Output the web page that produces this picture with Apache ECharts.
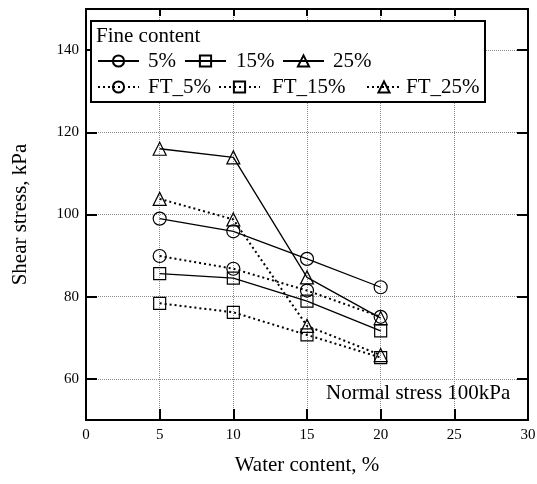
<!DOCTYPE html>
<html>
<head>
<meta charset="utf-8">
<script src="https://cdn.jsdelivr.net/npm/echarts@6/dist/echarts.min.js"></script>
<style>
  html, body { margin: 0; padding: 0; background: #fff; }
  #chart { width: 537px; height: 484px; }
</style>
</head>
<body>
<div id="chart"></div>
<script>
// Water content (%) at which each specimen group was tested
const waterContent = [5, 10, 15, 20];

// Shear stress (kPa) under 100 kPa normal stress
const fine5 = [99.0, 95.9, 89.2, 82.3];
const fine15 = [85.6, 84.5, 78.9, 71.7];
const fine25 = [116.0, 113.9, 84.7, 74.8];
const ft5 = [89.9, 86.8, 81.5, 75.1];
const ft15 = [78.4, 76.2, 70.7, 65.2];
const ft25 = [103.8, 98.8, 72.9, 65.8];

const seriesNames = ['5%', '15%', '25%', 'FT_5%', 'FT_15%', 'FT_25%'];
const seriesValues = [fine5, fine15, fine25, ft5, ft15, ft25];

// Axis tick labels
const xTicks = [0, 5, 10, 15, 20, 25, 30];
const yTicks = [60, 80, 100, 120, 140];

const FONT = '"Liberation Serif", "Times New Roman", serif';

const symbols = ['circle', 'rect', 'triangle', 'circle', 'rect', 'triangle'];
const symbolSizes = [13, 12, 13, 13, 12, 13];

function pairs(vals) {
  return waterContent.map((x, i) => [x, vals[i]]);
}

const series = seriesNames.map((name, i) => {
  const dotted = i >= 3;
  return {
    name: name,
    type: 'line',
    data: pairs(seriesValues[i]),
    symbol: symbols[i],
    symbolSize: symbolSizes[i],
    showAllSymbol: true,
    z: 2,
    itemStyle: { color: 'rgba(255,255,255,0)', borderColor: '#000', borderWidth: 1.2 },
    lineStyle: dotted
      ? { color: '#000', width: 2, type: [2, 3] }
      : { color: '#000', width: 1.3, type: 'solid' },
    emphasis: { disabled: true },
    animation: false
  };
});

// Legend entries laid out in two rows inside the framed box
const legendSlots = [
  { name: '5%', left: 97, top: 61, w: 41, pad: 4 },
  { name: '15%', left: 184, top: 61, w: 41, pad: 5 },
  { name: '25%', left: 282, top: 61, w: 41, pad: 4 },
  { name: 'FT_5%', left: 97, top: 87, w: 41, pad: 4 },
  { name: 'FT_15%', left: 218, top: 87, w: 41, pad: 7 },
  { name: 'FT_25%', left: 366, top: 87, w: 34, pad: 0 }
];

const legends = legendSlots.map(s => ({
  data: [s.name],
  left: s.left,
  top: s.top - 11,
  padding: 0,
  itemGap: 0,
  itemWidth: s.w,
  itemHeight: 14,
  selectedMode: false,
  z: 6,
  textStyle: {
    fontFamily: FONT,
    fontSize: 21,
    color: '#000',
    lineHeight: 22,
    padding: [0, 0, 0, s.pad]
  }
}));

const gridLine = { show: true, lineStyle: { color: '#8a8a8a', width: 1, type: [1, 1] } };

const option = {
  backgroundColor: '#fff',
  animation: false,
  grid: { left: 86, right: 9, top: 9, bottom: 64, containLabel: false, outerBoundsMode: 'none' },
  legend: legends,
  xAxis: [
    {
      type: 'value',
      min: 0, max: 30, interval: 5,
      position: 'bottom',
      name: 'Water content, %',
      nameLocation: 'middle',
      nameGap: 35,
      nameTextStyle: { fontFamily: FONT, fontSize: 21, color: '#000' },
      axisLine: { show: true, onZero: false, lineStyle: { color: '#000', width: 2 } },
      axisTick: { show: true, inside: true, length: 11, lineStyle: { color: '#000', width: 2 } },
      axisLabel: {
        fontFamily: FONT, fontSize: 15, color: '#000', margin: 8,
        customValues: xTicks,
        formatter: v => String(v)
      },
      splitLine: gridLine
    },
    {
      type: 'value',
      min: 0, max: 30, interval: 5,
      position: 'top',
      axisLine: { show: true, onZero: false, lineStyle: { color: '#000', width: 2 } },
      axisTick: { show: true, inside: true, length: 7, lineStyle: { color: '#000', width: 2 } },
      axisLabel: { show: false },
      splitLine: { show: false }
    }
  ],
  yAxis: [
    {
      type: 'value',
      min: 50, max: 150, interval: 10,
      position: 'left',
      name: 'Shear stress, kPa',
      nameLocation: 'middle',
      nameGap: 55,
      nameTextStyle: { fontFamily: FONT, fontSize: 21, color: '#000' },
      axisLine: { show: true, onZero: false, lineStyle: { color: '#000', width: 2 } },
      axisTick: { show: true, inside: true, length: 11, customValues: yTicks, lineStyle: { color: '#000', width: 2 } },
      axisLabel: { fontFamily: FONT, fontSize: 15, color: '#000', margin: 7, customValues: yTicks },
      splitLine: Object.assign({ customValues: yTicks }, gridLine)
    },
    {
      type: 'value',
      min: 50, max: 150, interval: 10,
      position: 'right',
      axisLine: { show: true, onZero: false, lineStyle: { color: '#000', width: 2 } },
      axisTick: { show: true, inside: true, length: 11, customValues: yTicks, lineStyle: { color: '#000', width: 2 } },
      axisLabel: { show: false },
      splitLine: { show: false }
    }
  ],
  graphic: [
    {
      type: 'rect',
      z: 5,
      shape: { x: 91, y: 21, width: 394, height: 81 },
      style: { fill: '#fff', stroke: '#000', lineWidth: 2 }
    },
    {
      type: 'text',
      z: 7,
      x: 96, y: 36,
      style: {
        text: 'Fine content',
        font: '21px ' + FONT,
        fill: '#000',
        verticalAlign: 'middle'
      }
    },
    {
      type: 'text',
      z: 7,
      x: 326, y: 393,
      style: {
        text: 'Normal stress 100kPa',
        font: '21px ' + FONT,
        fill: '#000',
        verticalAlign: 'middle'
      }
    }
  ],
  series: series
};

const chart = echarts.init(document.getElementById('chart'), null, { renderer: 'canvas' });
chart.setOption(option);
</script>
</body>
</html>
